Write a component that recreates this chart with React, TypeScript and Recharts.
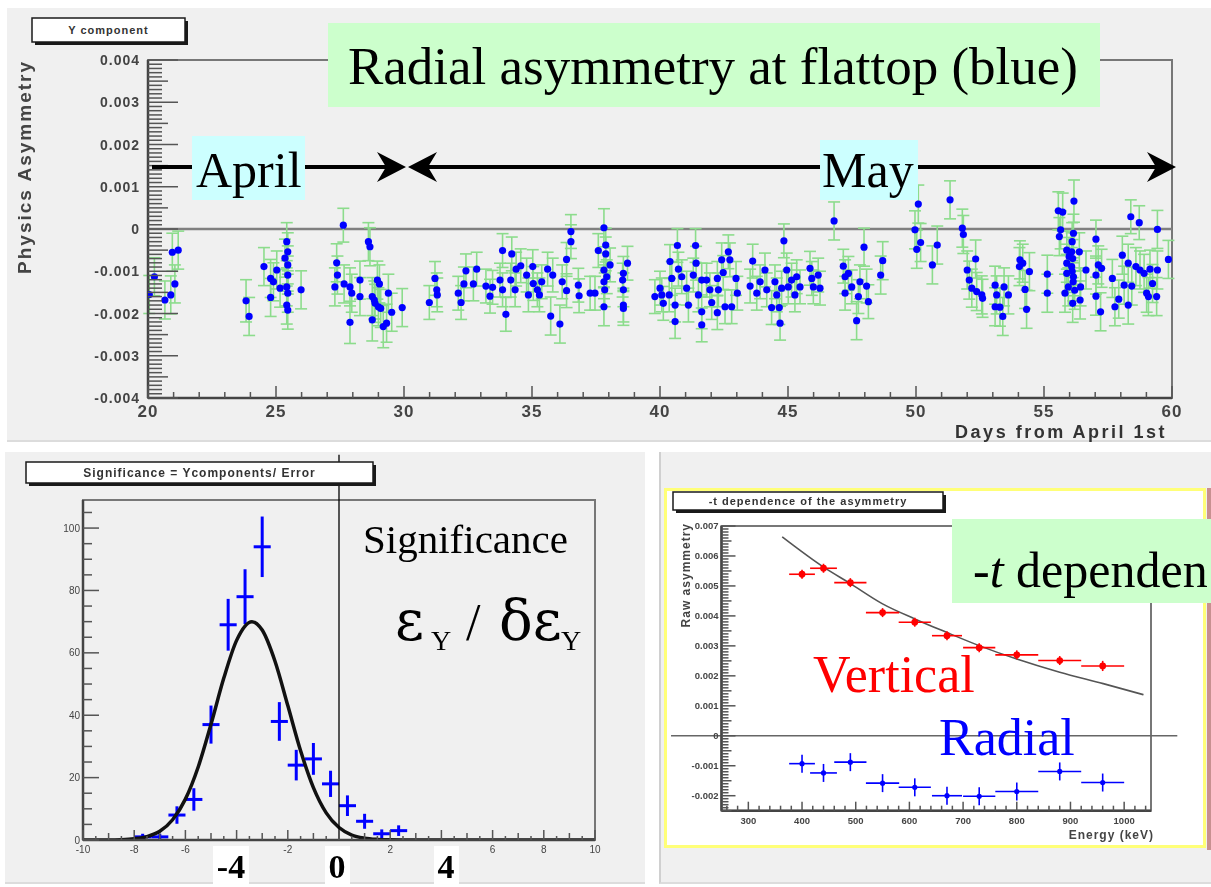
import React from 'react';
import {
  ScatterChart,
  ComposedChart,
  Scatter,
  Line,
  XAxis,
  YAxis,
  ErrorBar,
  ReferenceLine,
  ReferenceArea,
} from 'recharts';

// Radial asymmetry per run: [days from April 1st, asymmetry (x1e-3), error (x1e-3)]
const radialRuns: [number, number, number][] = [
  [20.05, -1.55, 0.45], [20.25, -1.13, 0.45], [20.66, -1.68, 0.45], [20.89, -1.56, 0.45], [20.95, -0.55, 0.45],
  [21.18, -0.5, 0.45], [21.05, -1.3, 0.45], [23.83, -1.7, 0.5], [23.95, -2.07, 0.45], [24.53, -0.89, 0.45],
  [24.79, -1.17, 0.45], [24.9, -1.25, 0.45], [25.03, -0.97, 0.45], [24.79, -1.62, 0.45], [25.16, -1.4, 0.45],
  [25.42, -0.3, 0.45], [25.46, -0.54, 0.45], [25.35, -0.69, 0.45], [25.46, -0.85, 0.45], [25.46, -1.09, 0.45],
  [25.42, -1.37, 0.45], [25.42, -1.8, 0.45], [25.46, -1.92, 0.45], [25.98, -1.44, 0.45], [25.46, -1.52, 0.45],
  [27.63, 0.09, 0.4], [27.37, -0.8, 0.45], [27.4, -1.09, 0.45], [27.3, -1.37, 0.45], [27.66, -1.3, 0.45],
  [27.89, -1.37, 0.45], [27.96, -1.52, 0.45], [28.28, -1.21, 0.45], [28.28, -1.6, 0.45], [27.89, -2.21, 0.5],
  [28.61, -0.3, 0.45], [28.67, -0.42, 0.45], [28.96, -1.21, 0.45], [29.04, -1.3, 0.45], [28.76, -1.6, 0.45],
  [28.87, -1.76, 0.45], [29.0, -1.84, 0.45], [29.09, -1.88, 0.45], [28.76, -2.15, 0.5], [29.19, -2.31, 0.5],
  [29.32, -2.23, 0.45], [29.39, -1.52, 0.45], [29.52, -1.97, 0.45], [29.93, -1.86, 0.45], [28.84, -1.68, 0.45],
  [30.99, -1.74, 0.4], [31.21, -1.17, 0.4], [31.28, -1.44, 0.4], [31.3, -1.56, 0.4], [32.12, -1.52, 0.4],
  [32.23, -1.74, 0.4], [32.34, -1.3, 0.4], [32.42, -0.99, 0.4], [32.71, -1.3, 0.4], [32.84, -0.95, 0.4],
  [33.2, -1.35, 0.4], [33.36, -1.59, 0.4], [33.46, -1.38, 0.4], [33.75, -1.21, 0.4], [33.85, -0.51, 0.4],
  [33.85, -1.44, 0.4], [33.98, -2.02, 0.4], [34.17, -1.21, 0.4], [34.21, -0.59, 0.4], [34.34, -1.44, 0.4],
  [34.38, -0.95, 0.4], [34.56, -0.87, 0.4], [34.79, -1.09, 0.4], [34.86, -1.56, 0.4], [35.03, -0.89, 0.4],
  [35.05, -1.29, 0.4], [35.21, -1.44, 0.4], [35.38, -1.25, 0.4], [35.29, -1.56, 0.4], [35.61, -0.95, 0.4],
  [35.81, -1.09, 0.4], [35.73, -2.06, 0.45], [36.09, -2.25, 0.45], [36.18, -1.25, 0.4], [36.35, -1.46, 0.4],
  [36.35, -0.72, 0.4], [36.52, -0.3, 0.4], [36.52, -0.06, 0.4], [36.81, -1.33, 0.4], [36.84, -1.58, 0.4],
  [37.27, -1.52, 0.4], [37.46, -1.52, 0.4], [37.81, 0.03, 0.45], [37.59, -0.51, 0.4], [37.88, -0.38, 0.4],
  [37.88, -0.59, 0.4], [38.05, -0.85, 0.4], [37.81, -0.97, 0.4], [37.92, -1.13, 0.4], [37.81, -1.25, 0.4],
  [37.84, -1.44, 0.4], [37.81, -1.84, 0.45], [38.57, -1.05, 0.4], [38.73, -0.81, 0.4], [38.57, -1.44, 0.4],
  [38.57, -1.8, 0.4], [38.57, -1.88, 0.4], [38.54, -1.21, 0.4], [39.8, -1.6, 0.4], [40.07, -1.56, 0.4],
  [40.13, -1.76, 0.4], [40.0, -1.4, 0.4], [40.39, -0.77, 0.4], [40.46, -1.17, 0.4], [40.36, -1.56, 0.4],
  [40.59, -1.8, 0.4], [40.59, -2.19, 0.4], [40.68, -0.39, 0.4], [40.72, -0.95, 0.4], [40.85, -1.13, 0.4],
  [41.04, -1.4, 0.4], [41.11, -1.8, 0.4], [41.3, -1.09, 0.4], [41.39, -0.39, 0.4], [41.41, -0.81, 0.4],
  [41.5, -1.56, 0.4], [41.63, -1.21, 0.4], [41.63, -1.96, 0.4], [41.63, -2.27, 0.4], [41.82, -1.21, 0.4],
  [41.95, -1.44, 0.4], [42.02, -1.74, 0.4], [42.24, -1.17, 0.4], [42.28, -1.44, 0.4], [42.24, -1.98, 0.4],
  [42.41, -0.73, 0.4], [42.47, -1.03, 0.4], [42.54, -1.84, 0.4], [42.67, -0.54, 0.4], [42.73, -0.73, 0.4],
  [42.8, -1.84, 0.4], [42.97, -1.17, 0.4], [43.02, -1.52, 0.4], [43.52, -1.35, 0.4], [43.62, -0.76, 0.4],
  [43.78, -1.52, 0.4], [43.91, -1.25, 0.4], [44.1, -0.97, 0.4], [44.17, -1.44, 0.4], [44.36, -1.86, 0.4],
  [44.49, -1.25, 0.4], [44.56, -1.56, 0.4], [44.66, -1.86, 0.4], [44.69, -2.23, 0.4], [44.84, -0.28, 0.4],
  [44.75, -1.4, 0.4], [44.95, -0.97, 0.4], [45.01, -1.37, 0.4], [45.14, -1.21, 0.4], [45.27, -1.56, 0.4],
  [45.34, -1.13, 0.4], [45.47, -1.37, 0.4], [45.86, -0.93, 0.4], [45.93, -1.17, 0.4], [45.99, -1.37, 0.4],
  [46.18, -1.09, 0.4], [46.25, -1.4, 0.4], [46.8, 0.19, 0.45], [47.16, -0.88, 0.4], [47.23, -1.13, 0.4],
  [47.36, -1.05, 0.4], [47.23, -1.52, 0.4], [47.49, -1.37, 0.4], [47.75, -1.6, 0.4], [47.68, -2.17, 0.45],
  [47.81, -1.25, 0.4], [47.97, -0.43, 0.45], [48.07, -1.35, 0.4], [48.14, -1.72, 0.4], [48.62, -1.09, 0.45],
  [48.7, -0.75, 0.45], [49.96, -0.02, 0.45], [50.09, 0.59, 0.45], [50.03, -0.48, 0.45], [50.18, -0.32, 0.45],
  [50.83, -0.38, 0.45], [50.64, -0.85, 0.45], [51.33, 0.69, 0.45], [51.81, 0.02, 0.45], [51.85, -0.13, 0.45],
  [52.33, -0.71, 0.45], [52.0, -0.97, 0.45], [52.08, -1.21, 0.45], [52.18, -1.4, 0.45], [52.37, -1.48, 0.45],
  [52.57, -1.56, 0.45], [52.6, -1.64, 0.45], [53.09, -1.33, 0.45], [53.15, -1.56, 0.45], [53.09, -1.84, 0.45],
  [53.28, -1.85, 0.45], [53.39, -2.07, 0.45], [53.44, -1.37, 0.45], [53.61, -1.56, 0.45], [54.06, -0.73, 0.45],
  [54.04, -0.89, 0.45], [54.17, -0.81, 0.45], [54.43, -1.01, 0.45], [54.26, -1.43, 0.45], [54.32, -1.9, 0.45],
  [55.13, -1.07, 0.45], [55.13, -1.52, 0.45], [55.56, 0.43, 0.45], [55.73, 0.4, 0.45], [55.65, -0.02, 0.45],
  [55.6, -0.18, 0.45], [56.17, 0.66, 0.5], [56.15, -0.1, 0.45], [55.89, -0.5, 0.45], [56.08, -0.54, 0.45],
  [56.38, -0.54, 0.45], [55.89, -0.81, 0.45], [56.08, -0.89, 0.45], [55.89, -1.05, 0.45], [56.15, -1.13, 0.45],
  [55.95, -1.37, 0.45], [55.82, -1.52, 0.45], [56.43, -1.37, 0.45], [56.12, -1.76, 0.45], [56.41, -1.68, 0.45],
  [56.1, -0.3, 0.45], [56.12, -0.7, 0.45], [56.1, -1.0, 0.45], [56.14, -1.25, 0.45], [55.98, -0.65, 0.45],
  [56.2, -1.45, 0.45], [56.64, -0.97, 0.45], [57.03, -0.24, 0.45], [57.03, -1.09, 0.45], [57.12, -0.85, 0.45],
  [57.25, -0.93, 0.45], [57.03, -1.59, 0.45], [57.21, -1.96, 0.45], [57.67, -1.17, 0.45], [57.92, -1.66, 0.45],
  [57.77, -1.84, 0.45], [58.06, -0.62, 0.45], [58.13, -1.33, 0.45], [58.39, 0.29, 0.4], [58.29, -0.81, 0.45],
  [58.29, -1.8, 0.45], [58.43, -1.35, 0.45], [58.72, 0.15, 0.4], [58.59, -0.89, 0.45], [58.75, -0.97, 0.45],
  [58.91, -1.05, 0.45], [59.01, -1.52, 0.45], [59.14, -0.95, 0.45], [59.24, -1.29, 0.45], [59.43, -0.01, 0.45],
  [59.43, -0.97, 0.45], [59.4, -1.6, 0.45], [59.86, -0.72, 0.45], [59.08, -1.6, 0.45],
];

// Significance = Y component / error, histogram with 30 bins over [-10, 10]
const sigBinCentres = [-7.67, -7.0, -6.33, -5.67, -5.0, -4.33, -3.67, -3.0, -2.33, -1.67, -1.0, -0.33, 0.33, 1.0, 1.67, 2.33];
const sigCounts = [1, 1, 8, 13, 37, 69, 78, 94, 38, 24, 26, 18, 11, 6, 2, 3];
const sigErrors = [1, 1, 2.8, 3.6, 6.1, 8.3, 8.8, 9.7, 6.2, 4.9, 5.1, 4.2, 3.3, 2.4, 1.4, 1.7];
const sigHalfBin = 1 / 3;
// these axis values get large bold labels of their own below the plot
const sigCalloutTicks = [-4, 0, 4];

// gaussian fit drawn over the histogram
const sigFitX = [-10, -9, -8.5, -8, -7.5, -7, -6.5, -6, -5.5, -5, -4.5, -4, -3.4, -3, -2.5, -2, -1.5, -1, -0.5, 0, 0.5, 1, 1.5, 2, 2.5, 4, 6, 8, 10];
const sigFitY = [0, 0, 0.1, 0.4, 1.1, 2.8, 6.5, 13.1, 23.4, 37.1, 51.9, 64.0, 70.0, 67.3, 57.3, 43.1, 28.6, 16.8, 8.7, 4.0, 1.6, 0.6, 0.2, 0.05, 0, 0, 0, 0, 0];

// -t dependence: energy bins (keV), asymmetries in units of 1e-3
const tEnergy = [400, 440, 490, 550, 610, 670, 730, 800, 880, 960];
const tEnergyHalf = [24, 25, 30, 31, 30, 28, 30, 40, 40, 40];
const verticalAsym = [5.39, 5.59, 5.11, 4.11, 3.79, 3.34, 2.94, 2.7, 2.51, 2.33];
const verticalErr = [0.15, 0.15, 0.15, 0.15, 0.15, 0.15, 0.15, 0.15, 0.15, 0.17];
const radialAsym = [-0.93, -1.24, -0.88, -1.58, -1.72, -2.0, -2.02, -1.86, -1.19, -1.56];
const radialErr = [0.3, 0.3, 0.3, 0.3, 0.3, 0.3, 0.3, 0.3, 0.3, 0.3];
const tFitEnergy = [363, 441, 488, 550, 610, 668, 731, 800, 880, 961, 1036];
const tFitAsym = [6.64, 5.62, 5.1, 4.4, 3.9, 3.46, 3.0, 2.56, 2.12, 1.74, 1.37];

const runData = radialRuns.map(([day, a, e]) => ({ day, asym: a / 1000, err: e / 1000 }));
const sigData = sigBinCentres.map((x, i) => ({ x, y: sigCounts[i], ex: sigHalfBin, ey: sigErrors[i] }));
const sigFit = sigFitX.map((x, i) => ({ x, y: sigFitY[i] }));
const verticalData = tEnergy.map((x, i) => ({ x, y: verticalAsym[i] / 1000, ex: tEnergyHalf[i], ey: verticalErr[i] / 1000 }));
const radialData = tEnergy.map((x, i) => ({ x, y: radialAsym[i] / 1000, ex: tEnergyHalf[i], ey: radialErr[i] / 1000 }));
const tFit = tFitEnergy.map((x, i) => ({ x, y: tFitAsym[i] / 1000 }));

const SANS = '"Liberation Sans", Arial, sans-serif';
const SERIF = '"Liberation Serif", "Times New Roman", serif';
const PANEL = '#f0f0f0';
const TICK = '#555';
const GREEN_NOTE = '#ccffcc';
const CYAN_NOTE = '#ccffff';

const rangeTicks = (lo: number, hi: number, step: number) => {
  const n = Math.round((hi - lo) / step);
  return Array.from({ length: n + 1 }, (_, i) => +(lo + i * step).toFixed(6));
};

const fmtAsym = (v: number) => {
  const m = Math.round(v * 1000);
  return m === 0 ? '0' : (m / 1000).toFixed(3);
};

const fmtSig = (v: number) => (sigCalloutTicks.includes(v) ? '' : String(v));

interface TickStyle {
  step: number;
  major: number;
  half: number;
  lens: [number, number, number];
  fmt: (v: number) => string;
  font: number;
  gap: number;
  weight?: string;
  spacing?: number;
  color?: string;
}

// ROOT style ticks: drawn inward from the axis, labels only on primary divisions
const tickKind = (s: TickStyle, v: number) => {
  const idx = Math.round(v / s.step);
  if (idx % s.major === 0) return 0;
  return idx % s.half === 0 ? 1 : 2;
};

const xTick = (s: TickStyle) => (p: any) => {
  const kind = tickKind(s, p.payload.value);
  const label = kind === 0 ? s.fmt(p.payload.value) : '';
  return (
    <g>
      <line x1={p.x} x2={p.x} y1={p.y} y2={p.y - s.lens[kind]} stroke={TICK} strokeWidth={1.5} />
      {label && (
        <text x={p.x} y={p.y + s.gap} textAnchor="middle" fontFamily={SANS} fontSize={s.font}
          fontWeight={s.weight ?? 'normal'} letterSpacing={s.spacing ?? 0} fill={s.color ?? '#444'}>
          {label}
        </text>
      )}
    </g>
  );
};

const yTick = (s: TickStyle) => (p: any) => {
  const kind = tickKind(s, p.payload.value);
  const label = kind === 0 ? s.fmt(p.payload.value) : '';
  return (
    <g>
      <line x1={p.x} x2={p.x + s.lens[kind]} y1={p.y} y2={p.y} stroke={TICK} strokeWidth={1.5} />
      {label && (
        <text x={p.x + s.gap} y={p.y + s.font * 0.36} textAnchor="end" fontFamily={SANS} fontSize={s.font}
          fontWeight={s.weight ?? 'normal'} letterSpacing={s.spacing ?? 0} fill={s.color ?? '#444'}>
          {label}
        </text>
      )}
    </g>
  );
};

const topX: TickStyle = { step: 1, major: 5, half: 5, lens: [12, 12, 6], fmt: String, font: 17, gap: 19, weight: 'bold', spacing: 1 };
const topY: TickStyle = { step: 0.0001, major: 10, half: 5, lens: [30, 20, 14], fmt: fmtAsym, font: 14, gap: -8, weight: 'bold', spacing: 1 };
const sigX: TickStyle = { step: 0.5, major: 4, half: 2, lens: [10, 7, 4], fmt: fmtSig, font: 10, gap: 13 };
const sigY: TickStyle = { step: 5, major: 4, half: 2, lens: [16, 9, 9], fmt: String, font: 10, gap: -3 };
const tX: TickStyle = { step: 20, major: 5, half: 5, lens: [9, 9, 5], fmt: String, font: 9.5, gap: 13, weight: 'bold' };
const tY: TickStyle = { step: 0.0001, major: 10, half: 5, lens: [14, 10, 7], fmt: fmtAsym, font: 9.5, gap: -3, weight: 'bold' };

const axisLine = { stroke: '#444', strokeWidth: 2.5 };

const blueDot = (p: any) => <circle cx={p.cx} cy={p.cy} r={3.6} fill="#0000ff" />;
const noMarker = () => <g />;
const redDot = (p: any) => <circle cx={p.cx} cy={p.cy} r={3.4} fill="#ff0000" />;
const smallBlueDot = (p: any) => <circle cx={p.cx} cy={p.cy} r={2.6} fill="#0000ff" />;

const TitleBox = ({ x, y, w, h, label, font }: { x: number; y: number; w: number; h: number; label: string; font: number }) => (
  <g>
    <rect x={x + 3} y={y + 3} width={w} height={h} fill="#1a1a1a" />
    <rect x={x} y={y} width={w} height={h} fill="#fff" stroke="#1a1a1a" strokeWidth={1.5} />
    <text x={x + w / 2} y={y + h / 2 + font * 0.35} textAnchor="middle" fontFamily={SANS} fontSize={font}
      fontWeight="bold" letterSpacing={1} fill="#333">
      {label}
    </text>
  </g>
);

// stealth arrow head, dir = 1 points right, -1 points left
const arrowHead = (tip: number, y: number, dir: number) =>
  `M${tip},${y} L${tip - dir * 29},${y - 15} L${tip - dir * 20},${y} L${tip - dir * 29},${y + 15} Z`;

// axes are 1px wide/high, so the margins put the plot frame where it belongs
const TopPanel = () => (
  <div style={{ position: 'absolute', left: 7, top: 8, filter: 'blur(0.5px)' }}>
    <ScatterChart width={1204} height={432} margin={{ top: 52, right: 39, bottom: 41, left: 140 }}>
      <XAxis type="number" dataKey="day" domain={[20, 60]} allowDataOverflow ticks={rangeTicks(20, 60, 1)}
        interval={0} height={1} tickSize={0} tickMargin={0} tickLine={false} axisLine={axisLine} tick={xTick(topX)} />
      <YAxis type="number" dataKey="asym" domain={[-0.004, 0.004]} allowDataOverflow ticks={rangeTicks(-0.004, 0.004, 0.0001)}
        interval={0} width={1} tickSize={0} tickMargin={0} tickLine={false} axisLine={axisLine} tick={yTick(topY)} />
      <ReferenceArea x1={20} x2={60} y1={-0.004} y2={0.004} fill="none" stroke="#777" strokeWidth={2} />
      <ReferenceLine y={0} stroke="#808080" strokeWidth={2.5} />
      <Scatter data={runData} shape={blueDot} isAnimationActive={false}>
        <ErrorBar dataKey="err" direction="y" width={6} stroke="#8cdc8c" strokeWidth={1.6} isAnimationActive={false} />
      </Scatter>
    </ScatterChart>
  </div>
);

const SignificancePanel = () => (
  <div style={{ position: 'absolute', left: 5, top: 452, filter: 'blur(0.5px)' }}>
    <ComposedChart width={635} height={430} margin={{ top: 48, right: 45, bottom: 41, left: 77 }}>
      <XAxis type="number" dataKey="x" domain={[-10, 10]} allowDataOverflow ticks={rangeTicks(-10, 10, 0.5)}
        interval={0} height={1} tickSize={0} tickMargin={0} tickLine={false} axisLine={axisLine} tick={xTick(sigX)} />
      <YAxis type="number" dataKey="y" domain={[0, 109]} allowDataOverflow ticks={rangeTicks(0, 105, 5)}
        interval={0} width={1} tickSize={0} tickMargin={0} tickLine={false} axisLine={axisLine} tick={yTick(sigY)} />
      <ReferenceArea x1={-10} x2={10} y1={0} y2={109} fill="none" stroke="#777" strokeWidth={2} />
      <Scatter data={sigData} shape={noMarker} isAnimationActive={false}>
        <ErrorBar dataKey="ex" direction="x" width={0} stroke="#0000ff" strokeWidth={3} isAnimationActive={false} />
        <ErrorBar dataKey="ey" direction="y" width={0} stroke="#0000ff" strokeWidth={3} isAnimationActive={false} />
      </Scatter>
      <Line data={sigFit} dataKey="y" type="monotone" stroke="#111" strokeWidth={3.5} dot={false} isAnimationActive={false} />
      <ReferenceLine segment={[{ x: 0, y: 0 }, { x: 0, y: 123.5 }]} ifOverflow="visible" stroke="#000" strokeWidth={1.3} />
    </ComposedChart>
  </div>
);

const TDependencePanel = () => (
  <div style={{ position: 'absolute', left: 664, top: 488, filter: 'blur(0.5px)' }}>
    <ComposedChart width={542} height={360} margin={{ top: 38, right: 55, bottom: 36.3, left: 56.5 }}>
      <XAxis type="number" dataKey="x" domain={[250, 1050]} allowDataOverflow ticks={rangeTicks(260, 1040, 20)}
        interval={0} height={1} tickSize={0} tickMargin={0} tickLine={false} axisLine={axisLine} tick={xTick(tX)} />
      <YAxis type="number" dataKey="y" domain={[-0.0025, 0.007]} allowDataOverflow ticks={rangeTicks(-0.0025, 0.007, 0.0001)}
        interval={0} width={1} tickSize={0} tickMargin={0} tickLine={false} axisLine={axisLine} tick={yTick(tY)} />
      <ReferenceArea x1={250} x2={1050} y1={-0.0025} y2={0.007} fill="none" stroke="#777" strokeWidth={2} />
      <ReferenceLine segment={[{ x: 156, y: 0 }, { x: 1099, y: 0 }]} ifOverflow="visible" stroke="#666" strokeWidth={1.5} />
      <Line data={tFit} dataKey="y" type="monotone" stroke="#555" strokeWidth={1.6} dot={false} isAnimationActive={false} />
      <Scatter data={verticalData} shape={redDot} isAnimationActive={false}>
        <ErrorBar dataKey="ex" direction="x" width={0} stroke="#ff0000" strokeWidth={1.6} isAnimationActive={false} />
        <ErrorBar dataKey="ey" direction="y" width={0} stroke="#ff0000" strokeWidth={1.6} isAnimationActive={false} />
      </Scatter>
      <Scatter data={radialData} shape={smallBlueDot} isAnimationActive={false}>
        <ErrorBar dataKey="ex" direction="x" width={0} stroke="#0000ff" strokeWidth={1.6} isAnimationActive={false} />
        <ErrorBar dataKey="ey" direction="y" width={0} stroke="#0000ff" strokeWidth={1.6} isAnimationActive={false} />
      </Scatter>
    </ComposedChart>
  </div>
);

// Frame text drawn by the plotting package (title boxes, axis titles)
const FrameText = () => (
  <svg width={1211} height={887} style={{ position: 'absolute', left: 0, top: 0, pointerEvents: 'none', filter: 'blur(0.5px)' }}>
    <TitleBox x={32} y={18} w={153} h={24} label="Y component" font={11} />
    <text transform="translate(31,60) rotate(-90)" textAnchor="end" fontFamily={SANS} fontSize={19}
      fontWeight="bold" letterSpacing={2} fill="#444">Physics Asymmetry</text>
    <text x={1167} y={438} textAnchor="end" fontFamily={SANS} fontSize={18} fontWeight="bold"
      letterSpacing={2.5} fill="#333">Days from April 1st</text>

    <TitleBox x={26} y={462} w={347} h={21} label="Significance = Ycomponents/ Error" font={12} />

    <TitleBox x={673} y={492} w={270} h={18} label="-t dependence of the asymmetry" font={11} />
    <text transform="translate(690,523) rotate(-90)" textAnchor="end" fontFamily={SANS} fontSize={12}
      fontWeight="bold" letterSpacing={1} fill="#444">Raw asymmetry</text>
    <text x={1154} y={839} textAnchor="end" fontFamily={SANS} fontSize={12} fontWeight="bold"
      letterSpacing={1} fill="#444">Energy (keV)</text>
  </svg>
);

// Slide annotations laid over the plots
const Notes = () => (
  <svg width={1211} height={887} style={{ position: 'absolute', left: 0, top: 0, pointerEvents: 'none' }}>
    <rect x={328} y={23} width={772} height={84} fill={GREEN_NOTE} />
    <text x={348} y={84} fontFamily={SERIF} fontSize={53} fill="#000">Radial asymmetry at flattop (blue)</text>

    <line x1={152} y1={167} x2={390} y2={167} stroke="#000" strokeWidth={4} />
    <path d={arrowHead(406, 167, 1)} fill="#000" />
    <line x1={425} y1={167} x2={1160} y2={167} stroke="#000" strokeWidth={4} />
    <path d={arrowHead(408, 167, -1)} fill="#000" />
    <path d={arrowHead(1176, 167, 1)} fill="#000" />
    <rect x={192} y={136} width={113} height={64} fill={CYAN_NOTE} />
    <text x={196} y={187} fontFamily={SERIF} fontSize={50} fill="#000">April</text>
    <rect x={820} y={140} width={98} height={60} fill={CYAN_NOTE} />
    <text x={822} y={187} fontFamily={SERIF} fontSize={50} fill="#000">May</text>

    <text x={363} y={553} fontFamily={SERIF} fontSize={41} fill="#000">Significance</text>
    <text x={395} y={640} fontFamily='"DejaVu Serif", serif' fontSize={56} fill="#000">ε</text>
    <text x={431} y={650} fontFamily={SERIF} fontSize={28} fill="#000">Y</text>
    <text x={466} y={640} fontFamily={SERIF} fontSize={52} fill="#000">/</text>
    <text x={499} y={640} fontFamily='"DejaVu Serif", serif' fontSize={56} fill="#000">δε</text>
    <text x={561} y={650} fontFamily={SERIF} fontSize={28} fill="#000">Y</text>

    <rect x={213} y={846} width={36} height={41} fill="#fff" />
    <rect x={325} y={846} width={25} height={41} fill="#fff" />
    <rect x={434} y={846} width={25} height={41} fill="#fff" />
    <text x={231} y={878} textAnchor="middle" fontFamily={SERIF} fontSize={34} fontWeight="bold" fill="#000">-4</text>
    <text x={337} y={878} textAnchor="middle" fontFamily={SERIF} fontSize={34} fontWeight="bold" fill="#000">0</text>
    <text x={446} y={878} textAnchor="middle" fontFamily={SERIF} fontSize={34} fontWeight="bold" fill="#000">4</text>

    <rect x={952} y={519} width={270} height={84} fill={GREEN_NOTE} />
    <text x={973} y={587} fontFamily={SERIF} fontSize={50} fill="#000">
      -<tspan fontStyle="italic">t</tspan> dependen
    </text>
    <text x={813} y={692} fontFamily={SERIF} fontSize={52} fill="#ff0000">Vertical</text>
    <text x={939} y={755} fontFamily={SERIF} fontSize={52} fill="#0000ff">Radial</text>
  </svg>
);

export default function App() {
  return (
    <div style={{ position: 'absolute', left: 0, top: 0, width: 1211, height: 887, background: '#fff', overflow: 'hidden' }}>
      <div style={{ position: 'absolute', left: 7, top: 8, width: 1204, height: 432, background: PANEL, borderBottom: '2px solid #dcdcdc' }} />
      <div style={{ position: 'absolute', left: 5, top: 452, width: 640, height: 430, background: PANEL, borderBottom: '2px solid #dcdcdc' }} />
      <div style={{ position: 'absolute', left: 659, top: 452, width: 552, height: 430, background: PANEL, borderLeft: '2px solid #d0d0d0', borderBottom: '2px solid #dcdcdc' }} />
      <div style={{ position: 'absolute', left: 664, top: 488, width: 542, height: 360, background: '#fff', border: '3px solid #ffff78', boxSizing: 'border-box' }} />
      <div style={{ position: 'absolute', left: 1207, top: 488, width: 4, height: 362, background: '#c89090' }} />
      <TopPanel />
      <SignificancePanel />
      <TDependencePanel />
      <FrameText />
      <Notes />
    </div>
  );
}
